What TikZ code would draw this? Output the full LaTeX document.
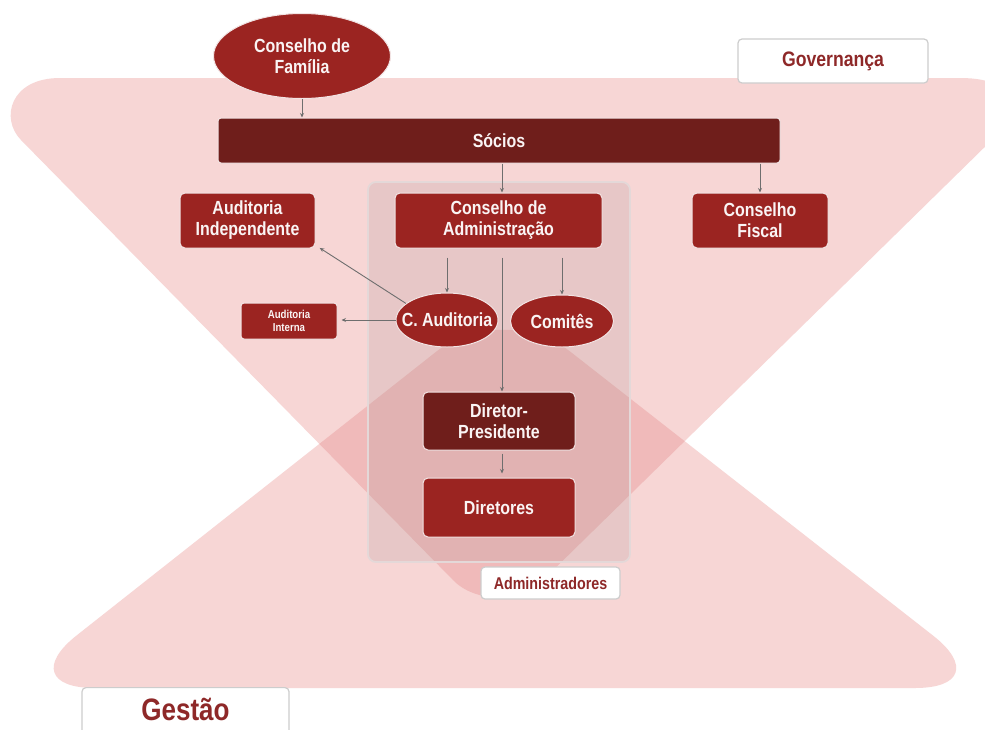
\documentclass[tikz,border=0pt]{standalone}
\usepackage{fontspec}
\newfontfamily\lfont{Liberation Sans}[FakeStretch=0.84]
\usetikzlibrary{arrows.meta,shapes.geometric,calc}
\definecolor{pinkc}{RGB}{247,214,213}
\definecolor{overc}{RGB}{240,186,186}
\definecolor{boxred}{RGB}{155,36,33}
\definecolor{boxdark}{RGB}{111,30,27}
\definecolor{lblred}{RGB}{142,40,40}
\definecolor{arrgray}{RGB}{110,110,110}
\definecolor{admfill}{RGB}{175,150,150}
\definecolor{admline}{RGB}{228,216,216}
\definecolor{lblline}{RGB}{205,205,205}
\definecolor{nodeline}{RGB}{242,228,228}
\definecolor{txtwhite}{RGB}{250,244,244}
\newcommand\govpath{(60,78) -- (960,78) .. controls (1025,78) and (1015,117) .. (997,135) -- (543,580) .. controls (520,603) and (475,603) .. (453,580) -- (21,140) .. controls (0,118.6) and (10,78) .. (60,78) -- cycle}
\newcommand\gespath{(500,688) -- (10,688) -- (503,299) -- (1000,688) -- cycle}
\begin{document}
\begin{tikzpicture}[x=1pt,y=-1pt,
  txt/.style={font=\lfont\bfseries\fontsize{19}{21}\selectfont, text=txtwhite, align=center, inner sep=0pt},
  rbox/.style={txt, rectangle, rounded corners=5pt, fill=boxred, draw=nodeline, line width=1pt},
  dbox/.style={rbox, fill=boxdark},
  ell/.style={txt, ellipse, fill=boxred, draw=nodeline, line width=1pt},
  arr/.style={draw=arrgray, line width=0.9pt, -{Stealth[length=4.5pt,width=4pt]}},
  lbl/.style={rectangle, rounded corners=4pt, fill=white, draw=lblline, line width=1.2pt, text=lblred, inner sep=0pt}
]
\useasboundingbox (0,0) rectangle (985,729);
\fill[white] (0,0) rectangle (985,729);
% background triangles
\fill[pinkc] \govpath;
\fill[pinkc, rounded corners=85pt] \gespath;
\begin{scope}
  \clip \govpath;
  \fill[overc, rounded corners=85pt] \gespath;
\end{scope}
% administradores area
\fill[admfill, fill opacity=0.22, rounded corners=8pt] (368,182) rectangle (630,562);
\draw[admline, line width=1.8pt, rounded corners=8pt] (368,182) rectangle (630,562);

\coordinate (cx) at (502,0);

% nodes
\node[ell, minimum width=177, minimum height=85] (fam) at (302,56) {Conselho de\\Família};
\node[dbox, rounded corners=3pt, minimum width=562, minimum height=45] (socios) at (499,140.5) {Sócios};
\node[rbox, minimum width=135, minimum height=55] (audind) at (247.5,220.5) {Auditoria\\Independente};
\node[rbox, minimum width=207, minimum height=55] (conadm) at (498.5,220.5) {Conselho de\\Administração};
\node[rbox, minimum width=136, minimum height=55] (confis) at (760,220.5) {Conselho\\Fiscal};
\node[ell, minimum width=102, minimum height=54] (caud) at (447,320) {\makebox[0pt]{C. Auditoria}};
\node[ell, minimum width=103, minimum height=52] (comites) at (562,321) {\makebox[0pt]{Comitês}};
\node[rbox, rounded corners=3pt, minimum width=96, minimum height=36, font=\lfont\bfseries\fontsize{11.5}{13}\selectfont] (audint) at (289,321) {Auditoria\\Interna};
\node[dbox, minimum width=152, minimum height=58] (dirpres) at (499,421) {Diretor-\\Presidente};
\node[rbox, minimum width=152, minimum height=59] (diretores) at (499,507.5) {Diretores};

% labels
\node[lbl, minimum width=190, minimum height=44, font=\lfont\bfseries\fontsize{21}{23}\selectfont] (gov) at (833,61) {Governança};
\node[lbl, minimum width=139, minimum height=32, font=\lfont\bfseries\fontsize{17}{19}\selectfont] (adm) at (550.5,583) {Administradores};
\node[lbl, anchor=north, minimum width=207, text height=33pt, text depth=40pt, font=\lfont\bfseries\fontsize{31}{33}\selectfont] (gest) at (185.5,687) {Gestão};

% connectors
\draw[arr] (fam.south) -- (fam.south |- socios.north);
\draw[arr] (socios.south -| cx) -- (conadm.north -| cx);
\draw[arr] (socios.south -| confis.north) -- (confis.north);
\draw[arr] ($(conadm.south -| caud.north)+(0,9)$) -- (caud.north);
\draw[arr] ($(conadm.south -| comites.north)+(0,9)$) -- (comites.north);
\draw[arr] ($(conadm.south -| cx)+(0,9)$) -- (dirpres.north -| cx);
\draw[arr, shorten <=3pt, shorten >=4pt] (dirpres.south -| cx) -- (diretores.north -| cx);
\draw[arr, shorten >=5pt] (caud.158) -- (audind.-20);
\draw[arr, shorten >=4pt] (caud.west) -- (caud.west -| audint.east);
\end{tikzpicture}
\end{document}
